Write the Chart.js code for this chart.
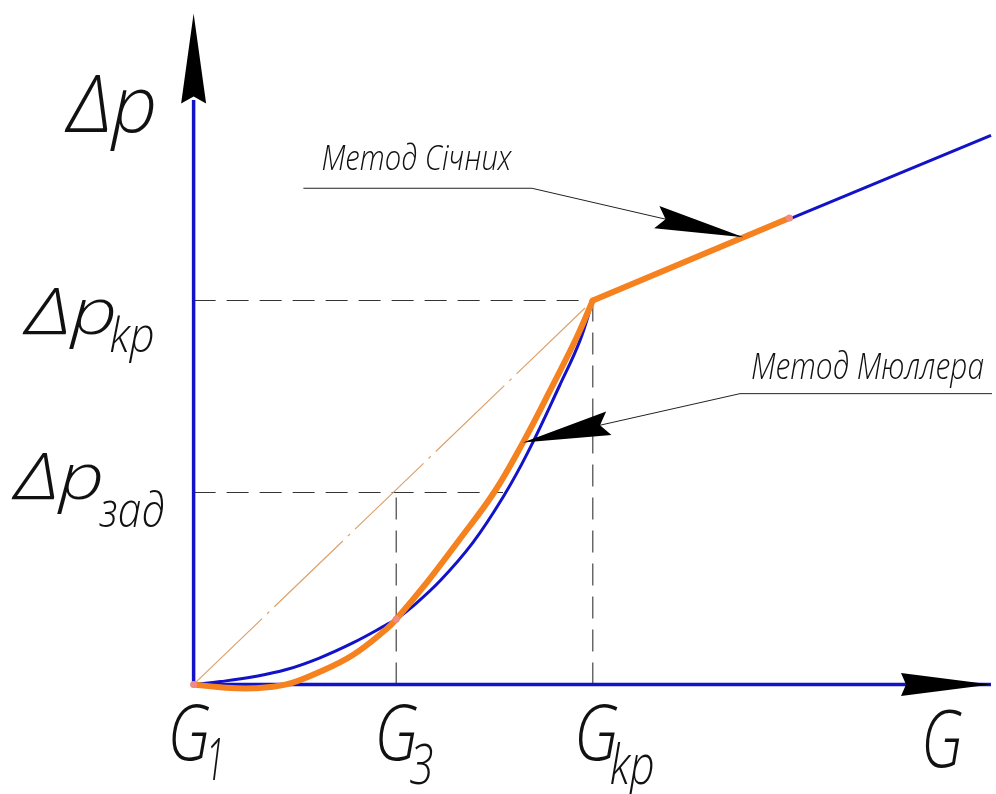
<!DOCTYPE html>
<html>
<head>
<meta charset="utf-8">
<script src="https://cdn.jsdelivr.net/npm/chart.js@4.4.1/dist/chart.umd.min.js"></script>
<style>
  html, body { margin: 0; padding: 0; background: #fff; }
  #wrap { width: 996px; height: 794px; }
</style>
</head>
<body>
<div id="wrap"><canvas id="c" width="996" height="794"></canvas></div>
<script>
// Flow rate G and pressure drop Δp, in relative units
const G1 = 0, G3 = 2.03, Gkp = 4.0;
const dpZad = 2.0, dpKp = 4.0;
const dpZadCurveG = 3.10;          // where the characteristic reaches Δp_зад

// Characteristic Δp(G): curved part up to the critical point
const curveG  = [0, 0.27, 0.6, 0.93, 1.26, 1.6, 1.93, 2.03, 2.18, 2.47, 2.8, 3.1, 3.35, 3.67, 3.87, 4.0];
const curveDp = [0, 0.03, 0.08, 0.155, 0.275, 0.435, 0.62, 0.68, 0.80, 1.08, 1.48, 1.95, 2.42, 3.12, 3.58, 4.0];

// Straight part beyond the critical point
const lineG  = [4.0, 7.99];
const lineDp = [4.0, 5.72];

// Müller parabola through G1, G3, Gkp
const mullerG  = [0, 0.27, 0.6, 0.93, 1.26, 1.6, 1.93, 2.03, 2.35, 2.65, 3.01, 3.30, 3.58, 3.84, 4.0];
const mullerDp = [0, -0.03, -0.04, 0.0, 0.13, 0.31, 0.575, 0.68, 1.08, 1.49, 2.0, 2.52, 3.08, 3.62, 4.0];

// Secant-method step along the straight part
const secantG  = [4.0, 5.97];
const secantDp = [4.0, 4.86];

// Chord from G1 to the critical point
const chordG  = [0, 4.0];
const chordDp = [0, 4.0];

// Marked nodes
const nodeG  = [0, 2.03, 5.97];
const nodeDp = [0, 0.68, 4.86];

// Axis ends
const axisEndG = 7.99, axisEndDp = 6.99;

// Callout leaders (polyline ending at the arrow tip)
const leaderSecG  = [1.10, 3.39, 5.51];
const leaderSecDp = [5.17, 5.17, 4.66];
const leaderMulG  = [8.0, 5.475, 3.30];
const leaderMulDp = [3.03, 3.03, 2.52];

// Tick labels: [main, subscript]
const xTickLabels = [['G', '1'], ['G', '3'], ['G', 'kp']];
const xTickValues = [G1, G3, Gkp];
const yTickLabels = [['Δp', 'зад'], ['Δp', 'kp']];
const yTickValues = [dpZad, dpKp];
const axisTitles = ['G', 'Δp'];
const calloutTexts = ['Метод Січних', 'Метод Мюллера'];

const pts = (xs, ys) => xs.map((x, i) => ({ x, y: ys[i] }));

const BLUE = '#1212c8';
const ORANGE = '#f5821f';
const FONT = '"Open Sans", "DejaVu Sans", sans-serif';

function line(data, color, width, extra) {
  return Object.assign({
    data, showLine: true, borderColor: color, backgroundColor: color,
    borderWidth: width, pointRadius: 0, fill: false, tension: 0
  }, extra || {});
}

const guide = { borderDash: [22, 11], order: 6 };
const datasets = [
  // lower order is drawn on top
  Object.assign(line(pts(nodeG, nodeDp), '#f08a84', 0), { showLine: false, pointRadius: 3.5, pointBorderWidth: 0, order: 0 }),
  line(pts(mullerG, mullerDp), ORANGE, 6, { tension: 0.4, order: 1, borderCapStyle: 'round' }),
  line(pts(secantG, secantDp), ORANGE, 6, { order: 1, borderCapStyle: 'round' }),
  line(pts(chordG, chordDp), '#dca26c', 1.2, { borderDash: [95, 7, 3, 7], order: 3 }),
  line(pts(curveG, curveDp), BLUE, 3, { tension: 0.4, order: 4 }),
  line(pts(lineG, lineDp), BLUE, 3, { order: 4 }),
  // axes
  line(pts([0, axisEndG], [0, 0]), BLUE, 3.5, { order: 5 }),
  line(pts([0, 0], [0, axisEndDp - 0.9]), BLUE, 3.5, { order: 5 }),
  // guide lines
  line(pts([0, Gkp], [dpKp, dpKp]), '#333', 1.1, guide),
  line(pts([0, dpZadCurveG], [dpZad, dpZad]), '#333', 1.1, guide),
  line(pts([G3, G3], [0, dpZad]), '#333', 1.1, guide),
  line(pts([Gkp, Gkp], [0, dpKp]), '#333', 1.1, guide),
  // callout leaders
  line(pts(leaderSecG, leaderSecDp), '#222', 1, { order: 2 }),
  line(pts(leaderMulG, leaderMulDp), '#222', 1, { order: 2 })
];

function arrowHead(ctx, tip, from, len, half, notch) {
  const dx = from.x - tip.x, dy = from.y - tip.y;
  const d = Math.hypot(dx, dy);
  const ux = dx / d, uy = dy / d, px = -uy, py = ux;
  const bx = tip.x + ux * len, by = tip.y + uy * len;
  ctx.beginPath();
  ctx.moveTo(tip.x, tip.y);
  ctx.lineTo(bx + px * half, by + py * half);
  ctx.lineTo(tip.x + ux * (len - notch), tip.y + uy * (len - notch));
  ctx.lineTo(bx - px * half, by - py * half);
  ctx.closePath();
  ctx.fill();
}

// narrow, slanted drafting-style text fitted to a given width
function text(ctx, str, left, base, size, width) {
  ctx.save();
  ctx.font = `italic 300 ${size}px ${FONT}`;
  ctx.textAlign = 'left';
  ctx.textBaseline = 'alphabetic';
  const sx = width / ctx.measureText(str).width;
  ctx.translate(left, base);
  ctx.scale(sx, 1);
  ctx.fillText(str, 0, 0);
  ctx.restore();
}

const decor = {
  id: 'decor',
  afterDatasetsDraw(chart) {
    const { ctx, scales: { x, y } } = chart;
    const P = (g, dp) => ({ x: x.getPixelForValue(g), y: y.getPixelForValue(dp) });
    ctx.save();
    ctx.fillStyle = '#000';

    // axis arrows
    arrowHead(ctx, P(0, axisEndDp), P(0, 0), 90, 12.5, 7);
    arrowHead(ctx, P(axisEndG, 0), P(0, 0), 90, 11.5, 5);

    // callout arrows
    arrowHead(ctx, P(leaderSecG[2], leaderSecDp[2]), P(leaderSecG[1], leaderSecDp[1]), 89, 11.5, 9);
    arrowHead(ctx, P(leaderMulG[2], leaderMulDp[2]), P(leaderMulG[1], leaderMulDp[1]), 88, 12, 9);

    ctx.fillStyle = '#111';
    const o = P(0, 0);

    // axis titles
    const gEnd = P(axisEndG, 0);
    text(ctx, axisTitles[0], gEnd.x - 70, o.y + 83, 80, 42);
    const dpEnd = P(0, axisEndDp);
    text(ctx, axisTitles[1], o.x - 126, dpEnd.y + 118, 80, 90);

    // x tick labels: [main dx, main width, sub dx, sub dy, sub size, sub width]
    const xLay = [[-26, 43, 12, 96, 58, 19], [-22, 44, 13, 100, 55, 24], [-19, 45, 17, 100, 55, 45]];
    xTickLabels.forEach((lab, i) => {
      const p = P(xTickValues[i], 0);
      const c = xLay[i];
      text(ctx, lab[0], p.x + c[0], p.y + 76, 77, c[1]);
      text(ctx, lab[1], p.x + c[2], p.y + c[3], c[4], c[5]);
    });

    // y tick labels: [main dx, main dy, main width, sub dx, sub dy, sub width]
    const yLay = [[-179, 7, 90, -94, 35, 65], [-168, 33, 92, -84, 51, 45]];
    yTickLabels.forEach((lab, i) => {
      const p = P(0, yTickValues[i]);
      const c = yLay[i];
      text(ctx, lab[0], p.x + c[0], p.y + c[1], 64, c[2]);
      text(ctx, lab[1], p.x + c[3], p.y + c[4], 48, c[5]);
    });

    // callout captions
    const s = P(leaderSecG[0], leaderSecDp[0]);
    text(ctx, calloutTexts[0], s.x + 18, s.y - 18, 34, 190);
    const m = P(leaderMulG[0], leaderMulDp[0]);
    text(ctx, calloutTexts[1], m.x - 241, m.y - 15, 37, 233);
    ctx.restore();
  }
};

new Chart(document.getElementById('c'), {
  type: 'scatter',
  data: { datasets },
  options: {
    responsive: false,
    maintainAspectRatio: false,
    animation: false,
    layout: { padding: 0 },
    plugins: { legend: { display: false }, tooltip: { enabled: false } },
    scales: {
      x: { type: 'linear', min: -1.9, max: 8.0, display: false },
      y: { type: 'linear', min: -1.1, max: 7.09, display: false }
    }
  },
  plugins: [decor]
});
</script>
</body>
</html>
